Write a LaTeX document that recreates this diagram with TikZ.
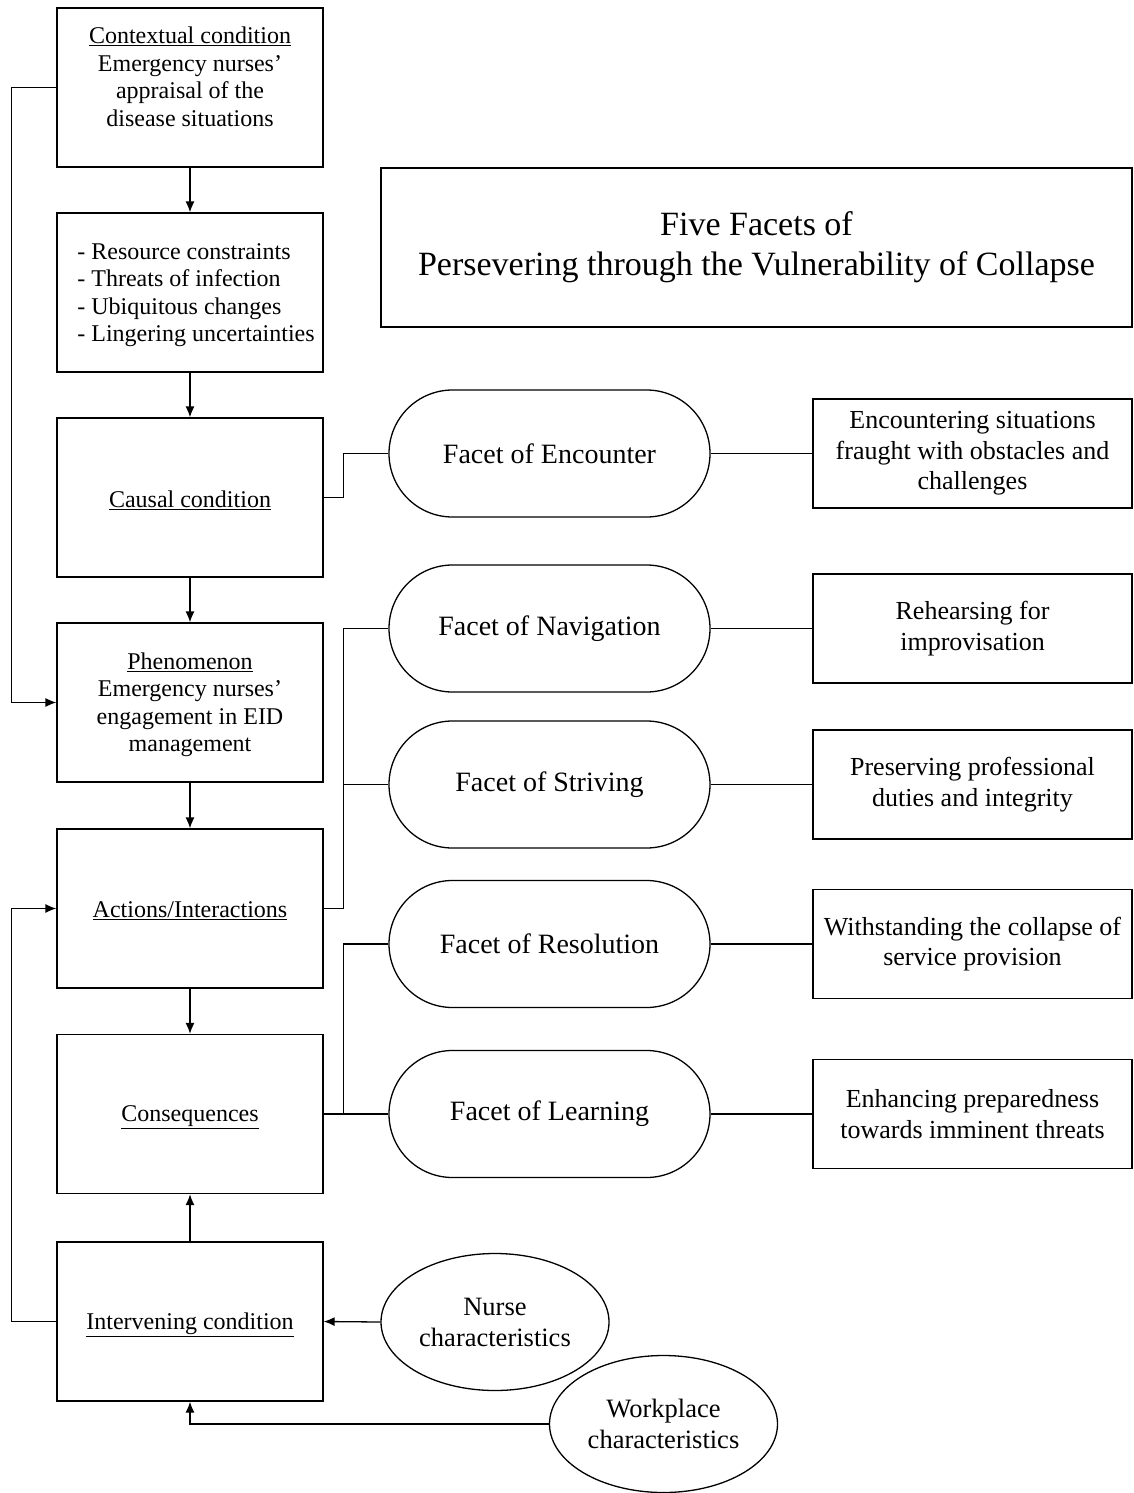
\documentclass[tikz,border=0pt]{standalone}
\usepackage{fontspec}
\setmainfont{Liberation Serif}
\usetikzlibrary{arrows.meta,shapes.geometric,shapes.misc}

\begin{document}
\begin{tikzpicture}[x=1pt,y=-1pt,
  line width=1.3pt,
  stagebox/.style={draw, line width=1.3pt, minimum width=266pt, minimum height=159pt,
    inner sep=0pt, align=center, font=\fontsize{24}{27.5}\selectfont},
  stagetext/.style={inner sep=0pt, align=center, font=\fontsize{24}{27.5}\selectfont},
  facet/.style={draw, rounded rectangle, line width=1.3pt, minimum width=321pt,
    minimum height=127pt, inner sep=0pt, font=\fontsize{28}{32}\selectfont},
  facetbox/.style={draw, line width=1.3pt, minimum width=319pt, minimum height=109pt,
    inner sep=0pt, align=center, font=\fontsize{26}{30.5}\selectfont},
  factor/.style={draw, ellipse, line width=1.3pt, minimum width=228pt, minimum height=137pt,
    inner sep=0pt, align=center, font=\fontsize{26.5}{31}\selectfont},
  arr/.style={-{Latex[length=11pt,width=9pt]}},
]
\useasboundingbox[fill=white] (0,0) rectangle (1134,1493);

% paradigm model column
\node[stagebox] (ctx) at (190,87.5) {};
\node[stagetext] (ctxlbl) at (190,77) {\underline{Contextual condition}\\Emergency nurses’\\appraisal of the\\disease situations};
\node[stagebox] (lst) at (190,292.5) {};
\node[stagetext, align=left] (lstlbl) at (196,295) {- Resource constraints\\- Threats of infection\\- Ubiquitous changes\\- Lingering uncertainties};
\node[stagebox] (cau) at (190,497.5) {};
\node[stagetext] (caulbl) at (190,500) {\underline{Causal condition}};
\node[stagebox] (phe) at (190,702.5) {};
\node[stagetext] (phelbl) at (190,705) {\underline{Phenomenon}\\Emergency nurses’\\engagement in EID\\management};
\node[stagebox] (act) at (190,908.5) {};
\node[stagetext] (actlbl) at (190,911) {\underline{Actions/Interactions}};
\node[stagebox] (con) at (190,1114) {};
\node[stagetext] (conlbl) at (190,1117) {\underline{Consequences}};
\node[stagebox] (int) at (190,1321.5) {};
\node[stagetext] (intlbl) at (190,1324.5) {\underline{Intervening condition}};

% title
\node[draw, line width=1.3pt, minimum width=751pt, minimum height=159pt, inner sep=0pt,
  align=center, font=\fontsize{34}{40}\selectfont] (title) at (756.5,247.5)
  {Five Facets of\\Persevering through the Vulnerability of Collapse};

% facets
\node[facet] (enc) at (549.5,453.5) {Facet of Encounter};
\node[facet] (nav) at (549.5,628.5) {Facet of Navigation};
\node[facet] (str) at (549.5,784.5) {Facet of Striving};
\node[facet] (res) at (549.5,944) {Facet of Resolution};
\node[facet] (lrn) at (549.5,1114) {Facet of Learning};

\node[facetbox] (encd) at (972.5,453.5) {Encountering situations\\fraught with obstacles and\\challenges};
\node[facetbox] (navd) at (972.5,628.5) {Rehearsing for\\improvisation};
\node[facetbox] (strd) at (972.5,784.5) {Preserving professional\\duties and integrity};
\node[facetbox] (resd) at (972.5,944) {Withstanding the collapse of\\service provision};
\node[facetbox] (lrnd) at (972.5,1114) {Enhancing preparedness\\towards imminent threats};

% intervening factors
\node[factor] (nur) at (495,1322) {Nurse\\characteristics};
\node[factor] (wrk) at (663.5,1424) {Workplace\\characteristics};

% main flow
\draw[arr] (ctx.south) -- (lst.north);
\draw[arr] (lst.south) -- (cau.north);
\draw[arr] (cau.south) -- (phe.north);
\draw[arr] (phe.south) -- (act.north);
\draw[arr] (act.south) -- (con.north);
\draw[arr] (int.north) -- (con.south);

% feedback lines on the left
\draw[arr] (ctx.west) -- ++(-45,0) |- (phe.west);
\draw[arr] (int.west) -- ++(-45,0) |- (act.west);

% factors into the intervening condition
\draw[arr] (nur.west) -- (int.east);
\draw[arr] (wrk.west) -| (int.south);

% links to the facets
\draw (cau.east) -- ++(20,0) |- (enc.west);
\draw (act.east) -- ++(20,0) coordinate (actj);
\draw (nav.west) -| (actj);
\draw (str.west) -- (str.west -| actj);
\draw (con.east) -- ++(20,0) coordinate (conj);
\draw (res.west) -| (conj);

\draw (enc.east) -- (encd.west);
\draw (nav.east) -- (navd.west);
\draw (str.east) -- (strd.west);
\draw (res.east) -- (resd.west);
\draw (lrn.east) -- (lrnd.west);
\draw (conj) -- (lrn.west);
\end{tikzpicture}
\end{document}
